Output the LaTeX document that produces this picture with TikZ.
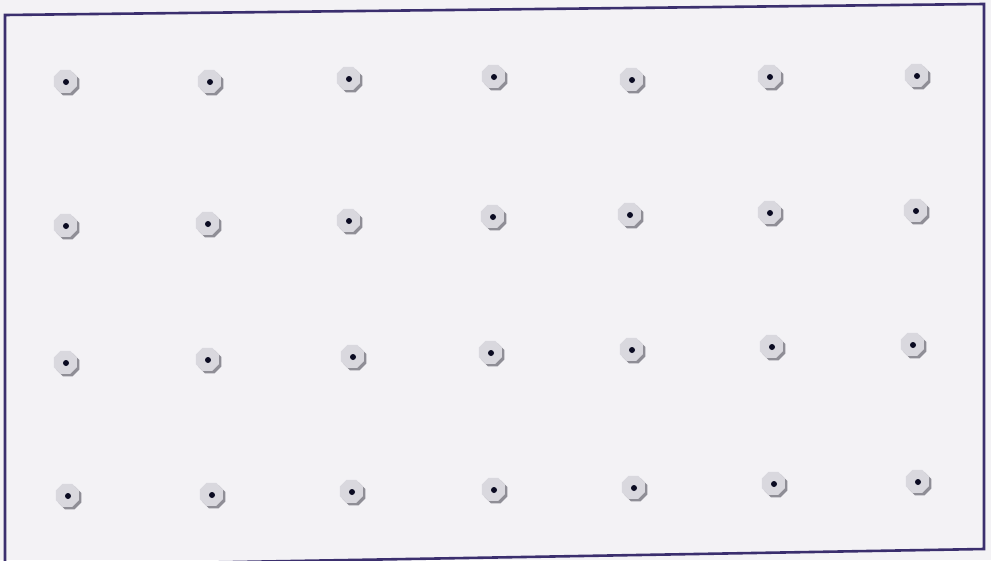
\documentclass[tikz,border=0pt]{standalone}
\usetikzlibrary{shapes.geometric}
\definecolor{bg}{HTML}{F3F2F5}
\definecolor{frame}{HTML}{3B2F6E}
\definecolor{mark}{HTML}{D9D8DE}
\definecolor{shade}{HTML}{8F8E96}
\definecolor{dotc}{HTML}{0B0B22}
\tikzset{
  octo/.style={regular polygon, regular polygon sides=8, minimum size=25pt, inner sep=0pt, fill=mark, draw=none},
  octoshade/.style={regular polygon, regular polygon sides=8, minimum size=25pt, inner sep=0pt, fill=shade, draw=none},
  centredot/.style={circle, fill=dotc, minimum size=6pt, inner sep=0pt, draw=none},
  framestyle/.style={draw=frame, line width=2.6pt, line join=miter}
}
\begin{document}
\begin{tikzpicture}[x=1pt,y=-1pt]
\useasboundingbox (0,0) rectangle (991,560);
\fill[bg] (0,0) rectangle (991,560);
\coordinate (tl) at (5,15);
\coordinate (tr) at (984,4);
\coordinate (br) at (984,549);
\coordinate (bl) at (5,566);
\draw[framestyle] (tl) -- (tr) -- (br) -- (bl) -- cycle;
\foreach \r/\pts in {1/{66/82,210/82,349/79,494/77,632/80,770/77,917/76},
                     2/{66/226,208/224,349/221,493/217,630/215,770/213,916/211},
                     3/{66/363,208/360,353/357,491/353,632/350,772/347,913/345},
                     4/{68/496,212/495,352/492,494/490,634/488,774/484,918/482}}{
  \foreach \x/\y [count=\c] in \pts {
    \node[octoshade] (s-\r-\c) at (\x+1.8,\y+1.8) {};
    \node[octo] (m-\r-\c) at (\x-0.6,\y-0.6) {};
    \node[centredot] (d-\r-\c) at (\x,\y) {};
  }
}
\end{tikzpicture}
\end{document}
